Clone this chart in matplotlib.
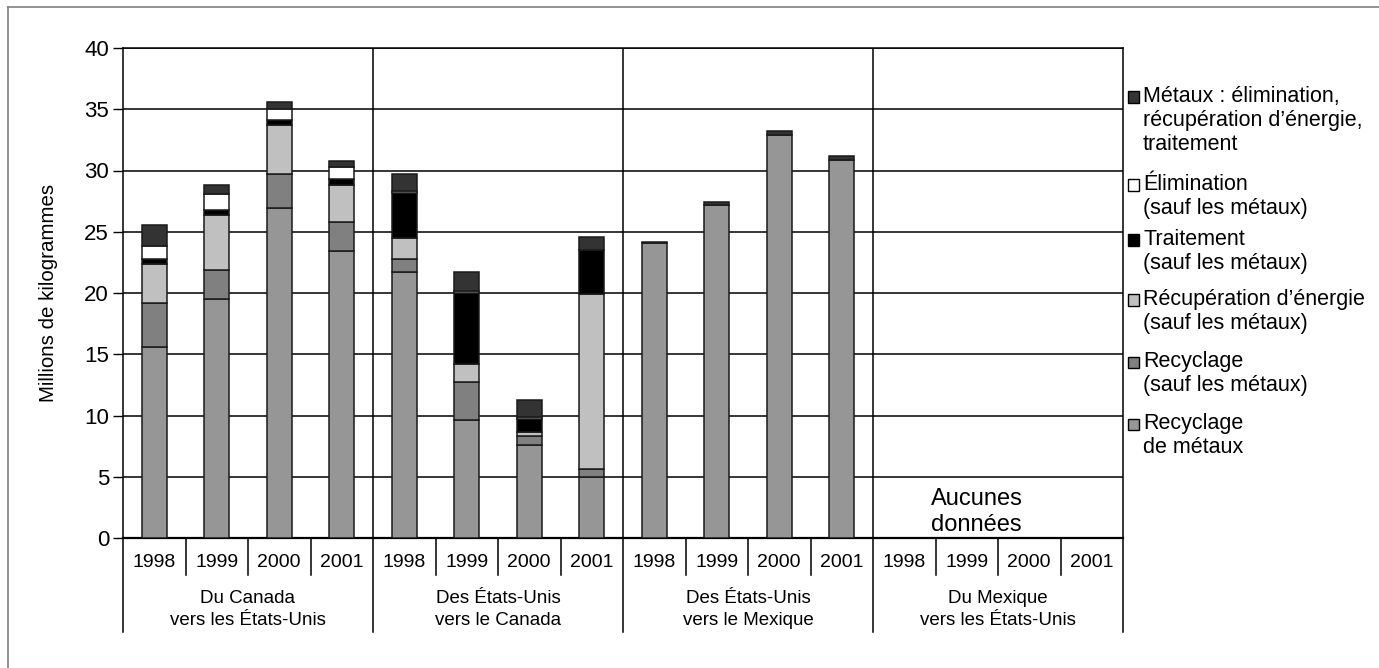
import numpy as np
import matplotlib
matplotlib.use("Agg")
import matplotlib.pyplot as plt
from matplotlib import font_manager
from matplotlib.patches import Rectangle
from matplotlib.lines import Line2D

# ---- data (millions of kg) ----
years = ["1998", "1999", "2000", "2001"]
groups = ["Du Canada\nvers les États-Unis",
          "Des États-Unis\nvers le Canada",
          "Des États-Unis\nvers le Mexique",
          "Du Mexique\nvers les États-Unis"]

nan = np.nan
recyclage_metaux = [15.6, 19.5, 26.9, 23.4, 21.7, 9.6, 7.6, 5.0,
                    24.1, 27.15, 32.9, 30.85, nan, nan, nan, nan]
recyclage = [3.6, 2.4, 2.8, 2.4, 1.05, 3.1, 0.75, 0.65,
             0, 0, 0, 0, nan, nan, nan, nan]
recup_energie = [3.2, 4.5, 4.05, 3.0, 1.7, 1.5, 0.3, 14.25,
                 0, 0, 0, 0, nan, nan, nan, nan]
traitement = [0.35, 0.4, 0.35, 0.5, 3.75, 5.8, 1.05, 3.6,
              0, 0, 0, 0, nan, nan, nan, nan]
elimination = [1.1, 1.3, 0.9, 1.0, 0.15, 0.2, 0.2, 0.05,
               0, 0, 0, 0, nan, nan, nan, nan]
metaux_autres = [1.7, 0.7, 0.6, 0.5, 1.35, 1.5, 1.4, 1.0,
                 0.05, 0.25, 0.3, 0.3, nan, nan, nan, nan]

series = [recyclage_metaux, recyclage, recup_energie,
          traitement, elimination, metaux_autres]
series_labels = ["Recyclage\nde métaux",
                 "Recyclage\n(sauf les métaux)",
                 "Récupération d’énergie\n(sauf les métaux)",
                 "Traitement\n(sauf les métaux)",
                 "Élimination\n(sauf les métaux)",
                 "Métaux : élimination,\nrécupération d’énergie,\ntraitement"]
series_colors = ["#969696", "#808080", "#c0c0c0", "#000000", "#ffffff", "#333333"]

no_data_text = "Aucunes\ndonnées"

# ---- fonts ----
installed = {f.name for f in font_manager.fontManager.ttflist}
regular = "Liberation Sans"
narrow = "Liberation Sans Narrow" if "Liberation Sans Narrow" in installed else "Liberation Sans"
plt.rcParams["font.family"] = [regular, "DejaVu Sans"]

W, H = 1379, 668
fig = plt.figure(figsize=(W / 100, H / 100), dpi=100)
ax = fig.add_axes([123 / W, (H - 538) / H, 1000 / W, 490 / H])

n = len(recyclage_metaux)
x = np.arange(n)
bottom = np.zeros(n)
for vals, col in zip(series, series_colors):
    v = np.array(vals, dtype=float)
    mask = np.isfinite(v) & (v > 0)
    ax.bar(x[mask], v[mask], width=0.4, bottom=bottom[mask], color=col,
           edgecolor="#1a1a1a", linewidth=1.1, zorder=3)
    bottom = bottom + np.nan_to_num(v)

ax.set_xlim(-0.5, n - 0.5)
ax.set_ylim(0, 40)
ax.set_yticks(np.arange(0, 41, 5))
ax.tick_params(axis="y", direction="out", length=7, width=1, labelsize=16,
               pad=3, colors="black")
ax.set_xticks([])
ax.yaxis.grid(True, color="black", linewidth=1.1, zorder=1)
ax.set_axisbelow(True)
for side in ["top", "right", "left", "bottom"]:
    ax.spines[side].set_linewidth(1.1)
    ax.spines[side].set_color("black")
ax.spines["bottom"].set_linewidth(1.6)
ax.set_ylabel("Millions de kilogrammes", fontsize=14.8, labelpad=19)

# group separators inside the plot
for gx in [3.5, 7.5, 11.5]:
    ax.axvline(gx, color="black", linewidth=1.1, zorder=2)

# category axis below the plot
xt = ax.get_xaxis_transform()
for i in range(n):
    ax.text(i, -0.051, years[i % 4], transform=xt, ha="center", va="center",
            fontsize=14, family=narrow)
for i in range(n + 1):
    bx = i - 0.5
    y_end = -0.192 if i % 4 == 0 else -0.0755
    ax.add_line(Line2D([bx, bx], [0, y_end], transform=xt, color="black",
                       linewidth=1.1, clip_on=False))
for g, name in enumerate(groups):
    ax.text(4 * g + 1.5, -0.146, name, transform=xt, ha="center", va="center",
            fontsize=13.5, family=narrow, linespacing=1.4)

ax.text(13.16, 0.2, no_data_text, ha="center", va="bottom", fontsize=17,
        linespacing=1.2, zorder=4)

# legend drawn down the right margin
legend_centers = [97, 185, 240, 300, 362, 424]
for cy, lab, col in zip(legend_centers, reversed(series_labels), reversed(series_colors)):
    fig.patches.append(Rectangle((1128 / W, (H - cy - 5.5) / H), 11 / W, 11 / H,
                                 transform=fig.transFigure, facecolor=col,
                                 edgecolor="black", linewidth=1.0))
    fig.text(1143 / W, (H - cy + 11) / H, lab, ha="left", va="top", fontsize=15.5,
             linespacing=1.2)

# frame lines at the left and top of the page
fig.add_artist(Line2D([8 / W, 8 / W], [0, (H - 7) / H], transform=fig.transFigure,
                      color="#808080", linewidth=1.2))
fig.add_artist(Line2D([8 / W, 1], [(H - 7) / H, (H - 7) / H], transform=fig.transFigure,
                      color="#808080", linewidth=1.2))

fig.savefig("out.png", dpi=100, facecolor="white")
